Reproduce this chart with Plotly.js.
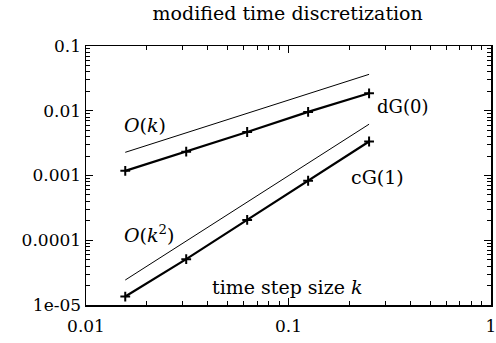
<!DOCTYPE html>
<html>
<head>
<meta charset="utf-8">
<script src="https://cdn.plot.ly/plotly-3.0.1.min.js"></script>
<style>html,body{margin:0;padding:0;background:#fff;}#chart{width:496px;height:343px;}</style>
</head>
<body>
<div id="chart"></div>
<script>
// step sizes k
const stepSizes = [1/64, 1/32, 1/16, 1/8, 1/4];
// errors
const errDG0 = [0.00118, 0.00233, 0.0047, 0.0096, 0.0186];
const errCG1 = [1.35e-5, 5.1e-5, 2.06e-4, 8.3e-4, 3.35e-3];
// reference slopes
const refKx = [1/64, 1/4];
const refK = [0.00228, 0.0365];
const refK2x = [1/64, 1/4];
const refK2 = [2.43e-5, 6.2e-3];
// tick labels
const yTickVals = [1e-5, 1e-4, 1e-3, 1e-2, 1e-1];
const yTickText = ["1e-05", "0.0001", "0.001", "0.01", "0.1"];
const xTickVals = [0.01, 0.1, 1];
const xTickText = ["0.01", "0.1", "1"];

const serif = "DejaVu Serif";

const traces = [
  {x: refKx, y: refK, mode: 'lines', line: {color: '#000', width: 1}, hoverinfo: 'skip'},
  {x: refK2x, y: refK2, mode: 'lines', line: {color: '#000', width: 1}, hoverinfo: 'skip'},
  {x: stepSizes, y: errDG0, mode: 'lines+markers', line: {color: '#000', width: 2.2},
   marker: {symbol: 'cross-thin', size: 7, line: {color: '#000', width: 2}}},
  {x: stepSizes, y: errCG1, mode: 'lines+markers', line: {color: '#000', width: 2.2},
   marker: {symbol: 'cross-thin', size: 7, line: {color: '#000', width: 2}}}
];

const axisCommon = {
  type: 'log', showgrid: false, zeroline: false,
  showline: true, mirror: 'allticks', linecolor: '#000', linewidth: 1.5,
  ticks: 'inside', ticklen: 7, tickwidth: 1, tickcolor: '#000',
  minor: {ticks: 'inside', ticklen: 4, tickwidth: 1, tickcolor: '#000', dtick: 'D1', showgrid: false},
  tickfont: {family: serif, size: 17, color: '#000'},
  ticklabeloverflow: 'allow'
};

const layout = {
  width: 496, height: 343,
  margin: {l: 86, r: 5, t: 46, b: 38},
  paper_bgcolor: '#fff', plot_bgcolor: '#fff',
  showlegend: false,
  font: {family: serif, color: '#000'},
  title: {text: 'modified time discretization', font: {family: serif, size: 19, color: '#000'},
          x: 0.58, xanchor: 'center', y: 0.962, yanchor: 'middle'},
  xaxis: Object.assign({}, axisCommon, {range: [-2, 0], tickvals: xTickVals, ticktext: xTickText, ticklabelstandoff: 5}),
  yaxis: Object.assign({}, axisCommon, {range: [-5, -1], tickvals: yTickVals, ticktext: yTickText}),
  annotations: [
    {text: '<i>O</i>(<i>k</i>)', xref: 'paper', yref: 'paper', x: 0.088, y: 0.695, xanchor: 'left', yanchor: 'middle', showarrow: false, font: {family: serif, size: 19, color: '#000'}},
    {text: '<i>O</i>(<i>k</i><sup>2</sup>)', xref: 'paper', yref: 'paper', x: 0.088, y: 0.275, xanchor: 'left', yanchor: 'middle', showarrow: false, font: {family: serif, size: 19, color: '#000'}},
    {text: 'dG(0)', xref: 'paper', yref: 'paper', x: 0.714, y: 0.765, xanchor: 'left', yanchor: 'middle', showarrow: false, font: {family: serif, size: 18, color: '#000'}},
    {text: 'cG(1)', xref: 'paper', yref: 'paper', x: 0.65, y: 0.495, xanchor: 'left', yanchor: 'middle', showarrow: false, font: {family: serif, size: 19, color: '#000'}},
    {text: 'time step size <i>k</i>', xref: 'paper', yref: 'paper', x: 0.305, y: 0.07, xanchor: 'left', yanchor: 'middle', showarrow: false, font: {family: serif, size: 19, color: '#000'}}
  ]
};

Plotly.newPlot('chart', traces, layout, {staticPlot: true, displayModeBar: false});
</script>
</body>
</html>
